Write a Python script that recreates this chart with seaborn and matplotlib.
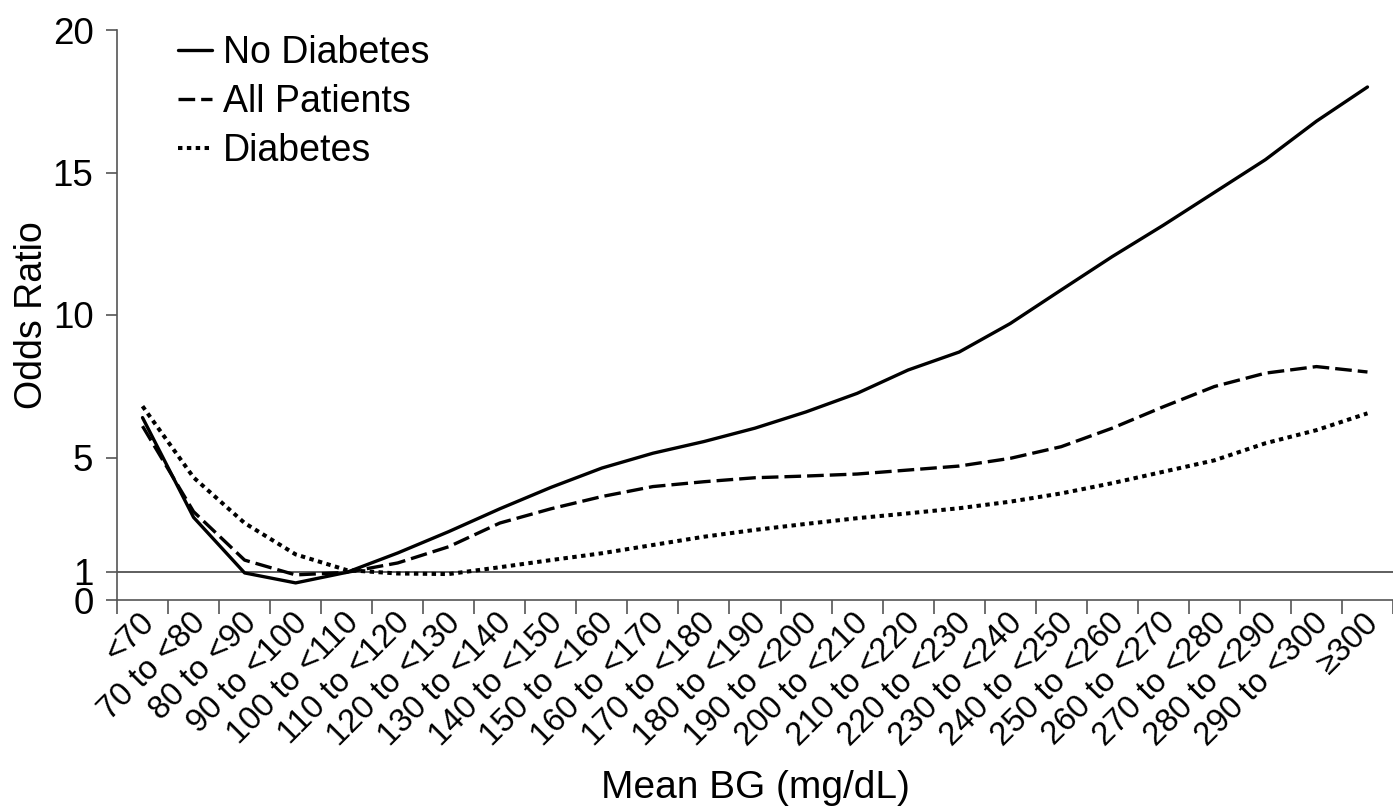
import numpy as np
import pandas as pd
import matplotlib
matplotlib.use('Agg')
import matplotlib.pyplot as plt
import matplotlib.transforms as mtransforms
import seaborn as sns

# mean blood glucose bins (mg/dL)
bins = ['<70'] + [f'{lo} to <{lo + 10}' for lo in range(70, 300, 10)] + ['\u2265300']

groups = ['No Diabetes', 'All Patients', 'Diabetes']

no_diabetes = [6.4, 2.9, 0.95, 0.6, 0.97, 1.65, 2.4, 3.2, 3.95, 4.63, 5.15, 5.56, 6.03,
               6.6, 7.25, 8.07, 8.7, 9.7, 10.88, 12.05, 13.15, 14.3, 15.45, 16.8, 18.0]
all_patients = [6.1, 3.1, 1.4, 0.88, 0.97, 1.3, 1.87, 2.7, 3.2, 3.63, 3.98, 4.15, 4.29,
                4.35, 4.42, 4.56, 4.7, 4.97, 5.38, 6.03, 6.78, 7.49, 7.96, 8.19, 8.0]
diabetes = [6.8, 4.3, 2.7, 1.6, 1.05, 0.93, 0.91, 1.15, 1.4, 1.64, 1.93, 2.22, 2.46,
            2.67, 2.87, 3.04, 3.22, 3.45, 3.74, 4.1, 4.5, 4.9, 5.5, 5.96, 6.55]

yticks = [0, 1, 5, 10, 15, 20]

df = pd.DataFrame({
    'pos': np.tile(np.arange(len(bins)), len(groups)),
    'odds': no_diabetes + all_patients + diabetes,
    'group': np.repeat(groups, len(bins)),
})

sns.set_theme(style='white', rc={'text.color': 'black', 'axes.labelcolor': 'black',
                                 'xtick.color': 'black', 'ytick.color': 'black'})
plt.rcParams['font.family'] = ['Liberation Sans', 'DejaVu Sans']

fig = plt.figure(figsize=(13.93, 8.10), dpi=100)
ax = fig.add_axes([117 / 1393, 1 - 600 / 810, 1 - 117 / 1393, 570 / 810])

sns.lineplot(data=df, x='pos', y='odds', style='group', style_order=groups,
             dashes={'No Diabetes': '', 'All Patients': (5, 1.8), 'Diabetes': (1.1, 1.1)},
             color='black', linewidth=2.4, errorbar=None, legend=False, ax=ax)
handles = list(ax.lines[:3])
handles[2].set_linewidth(2.9)

ax.axhline(1, color='#333333', lw=1.1, zorder=1)

ax.set_xlim(-0.5, len(bins) - 0.5)
ax.set_ylim(0, 20)
ax.set_yticks(yticks)
ax.set_xticks(np.arange(len(bins)))
ax.set_xticklabels(bins, rotation=45, ha='right', va='center', rotation_mode='anchor', fontsize=23.5)
ax.set_xticks(np.arange(-0.5, len(bins), 1), minor=True)
ax.tick_params(axis='x', which='major', length=0, pad=13)
ax.tick_params(axis='x', which='minor', length=10, width=1.2, color='#555555', direction='out', bottom=True)
ax.tick_params(axis='y', length=8, width=1.2, color='#555555', direction='out', left=True, pad=9, labelsize=26.5)
offset = mtransforms.ScaledTranslation(7 / 100, 0, fig.dpi_scale_trans)
for lbl in ax.get_xticklabels():
    lbl.set_transform(lbl.get_transform() + offset)

sns.despine(ax=ax)
for side in ['left', 'bottom']:
    ax.spines[side].set_color('#555555')
    ax.spines[side].set_linewidth(1.2)

ax.set_ylabel('Odds Ratio', fontsize=27, labelpad=2)
ax.set_xlabel('Mean BG (mg/dL)', fontsize=28)
ax.xaxis.set_label_coords(0.5, -0.298)

ax.legend(handles, groups, loc='upper left', bbox_to_anchor=(0.048, 0.991), frameon=False,
          fontsize=27, borderpad=0, borderaxespad=0, handlelength=0.9, handletextpad=0.3,
          labelspacing=0.35)

fig.savefig('out.png', dpi=100, facecolor='white')
